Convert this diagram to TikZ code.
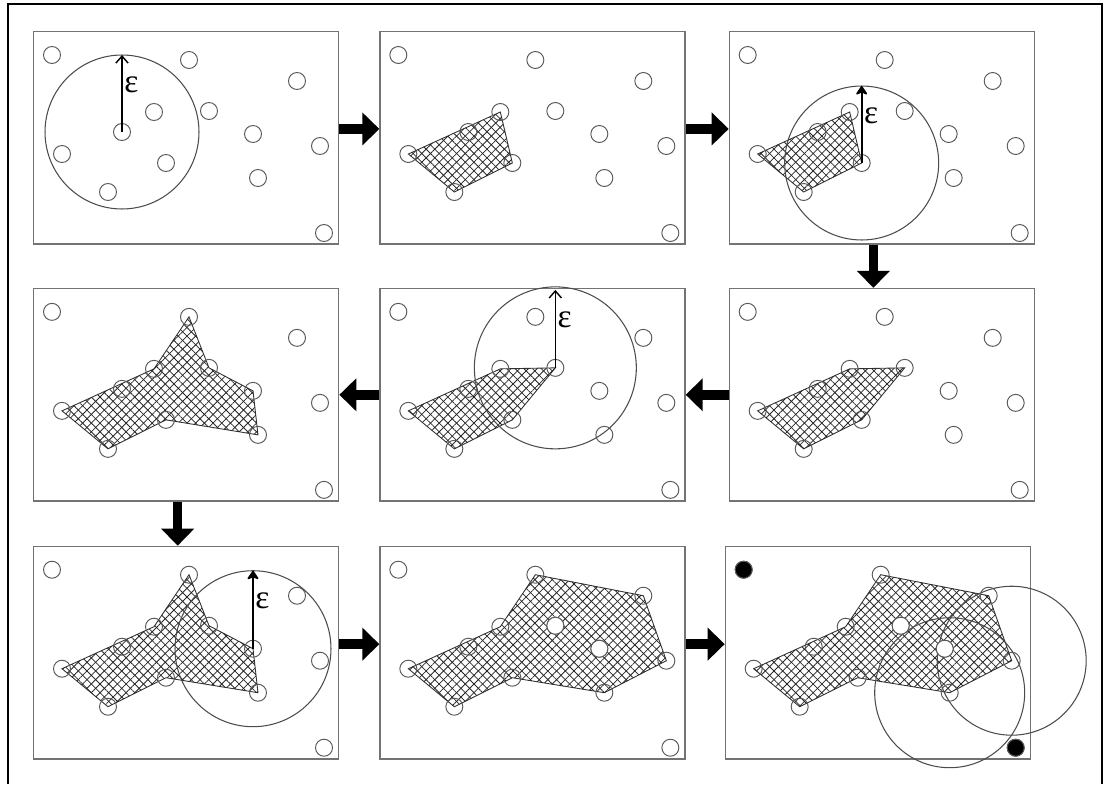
\documentclass[tikz,border=0pt]{standalone}
\usepackage{fontspec}
\newfontfamily\epsfont{Liberation Serif}
\usetikzlibrary{arrows.meta,positioning,patterns.meta}

% the same 13 data points are used in every step
\newcommand{\dotcoords}{%
  \foreach \n/\a/\b in {1/19/24,2/156/29,3/264/50,4/121/81,5/176/80,6/89/101,7/220/103,
                        8/287/115,9/29/123,10/133/132,11/75/161,12/225/147,13/291/202}
    \coordinate (q\n) at (\a,\b);}
\newcommand{\alldots}{\foreach \n in {1,...,13} \draw[dot] (q\n) circle[radius=0.17cm];}

\begin{document}
\begin{tikzpicture}[
    x=0.02cm,y=-0.02cm,
    panel/.style={rectangle,draw=black!55,line width=0.8pt,minimum width=6.1cm,minimum height=4.25cm,inner sep=0pt},
    dot/.style={draw=black!65,line width=0.55pt},
    reach/.style={draw=black!70,line width=0.6pt},
    hull/.style={draw=black!80,line width=0.5pt,
        postaction={pattern={Lines[angle=45,distance=3.5pt,line width=0.45pt]},pattern color=black!85},
        postaction={pattern={Lines[angle=-45,distance=3.5pt,line width=0.45pt]},pattern color=black!85}},
    rad/.style={-{Straight Barb[length=4pt,width=7pt]},line width=0.8pt},
    radbold/.style={-{Stealth[length=6pt,width=8pt,round]},line width=1.2pt},
    eps/.style={anchor=west,inner sep=0pt,font=\epsfont\fontsize{19}{19}\selectfont},
    flow/.style={line width=0.19cm,-{Triangle[length=0.34cm,width=0.64cm]}}
]
    \useasboundingbox (0,0) rectangle (1104,784);
    \draw[line width=1.2pt] (8,784) -- (8,4) -- (1102,4) -- (1102,784);

    % the nine steps
    \node[panel,anchor=north west] (s1) at (33,31) {};
    \node[panel,right=0.8cm of s1] (s2) {};
    \node[panel,right=0.86cm of s2] (s3) {};
    \node[panel,below=0.86cm of s3] (s6) {};
    \node[panel,left=0.86cm of s6] (s5) {};
    \node[panel,left=0.8cm of s5] (s4) {};
    \node[panel,below=0.88cm of s4] (s7) {};
    \node[panel,right=0.8cm of s7] (s8) {};
    \node[panel,right=0.78cm of s8] (s9) {};

    % step 1: first core point and its eps-neighbourhood
    \begin{scope}[shift={(s1.north west)}]
        \dotcoords
        \alldots
        \draw[reach] (q6) circle[radius=1.54cm];
        \draw[rad] (q6) -- ([yshift=1.54cm]q6) coordinate (e1);
        \node[eps] (l1) at ([shift={(2,30)}]e1) {ε};
    \end{scope}

    % step 2: first cluster
    \begin{scope}[shift={(s2.north west)}]
        \dotcoords
        \draw[hull] (q9) -- (q4) -- (q10) -- (q11) -- cycle;
        \alldots
    \end{scope}

    % step 3: expand from border point
    \begin{scope}[shift={(s3.north west)}]
        \dotcoords
        \draw[hull] (q9) -- (q4) -- (q10) -- (q11) -- cycle;
        \alldots
        \draw[reach] (q10) circle[radius=1.54cm];
        \draw[radbold] (q10) -- ([yshift=1.54cm]q10) coordinate (e3);
        \node[eps] (l3) at ([shift={(2,30)}]e3) {ε};
    \end{scope}

    % step 4 (right to left in row two)
    \begin{scope}[shift={(s6.north west)}]
        \dotcoords
        \draw[hull] (q9) -- (q4) -- (q5) -- (q10) -- (q11) -- cycle;
        \alldots
    \end{scope}

    \begin{scope}[shift={(s5.north west)}]
        \dotcoords
        \draw[hull] (q9) -- (q4) -- (q5) -- (q10) -- (q11) -- cycle;
        \alldots
        \draw[reach] (q5) circle[radius=1.62cm];
        \draw[rad] (q5) -- ([yshift=1.56cm]q5) coordinate (e5);
        \node[eps] (l5) at ([shift={(2,30)}]e5) {ε};
    \end{scope}

    \begin{scope}[shift={(s4.north west)}]
        \dotcoords
        \draw[hull] (q9) -- (q4) -- (q2) -- (q5) -- (q7) -- (q12) -- (q10) -- (q11) -- cycle;
        \alldots
    \end{scope}

    % row three
    \begin{scope}[shift={(s7.north west)}]
        \dotcoords
        \draw[hull] (q9) -- (q4) -- (q2) -- (q5) -- (q7) -- (q12) -- (q10) -- (q11) -- cycle;
        \alldots
        \draw[reach] (q7) circle[radius=1.56cm];
        \draw[radbold] (q7) -- ([yshift=1.56cm]q7) coordinate (e7);
        \node[eps] (l7) at ([shift={(2,30)}]e7) {ε};
    \end{scope}

    \begin{scope}[shift={(s8.north west)}]
        \dotcoords
        \draw[hull] (q9) -- (q4) -- (q2) -- (q3) -- (q8) -- (q12) -- (q10) -- (q11) -- cycle;
        \alldots
        \draw[dot,fill=white] (q5) circle[radius=0.17cm] (q7) circle[radius=0.17cm];
    \end{scope}

    % final cluster, noise in black
    \begin{scope}[shift={(s9.north west)}]
        \dotcoords
        \draw[hull] (q9) -- (q4) -- (q2) -- (q3) -- (q8) -- (q12) -- (q10) -- (q11) -- cycle;
        \draw[reach] (q8) circle[radius=1.49cm];
        \draw[reach] (q12) circle[radius=1.5cm];
        \alldots
        \draw[dot,fill=white] (q5) circle[radius=0.17cm] (q7) circle[radius=0.17cm];
        \draw[dot,fill=black] (q1) circle[radius=0.17cm] (q13) circle[radius=0.17cm];
    \end{scope}

    % step arrows
    \draw[flow] ([yshift=0.18cm]s1.east) -- ([yshift=0.18cm]s2.west);
    \draw[flow] ([yshift=0.18cm]s2.east) -- ([yshift=0.18cm]s3.west);
    \draw[flow] ([xshift=-0.17cm]s3.south) -- ([xshift=-0.17cm]s6.north);
    \draw[flow] (s6.west) -- (s5.east);
    \draw[flow] (s5.west) -- (s4.east);
    \draw[flow] ([xshift=-0.17cm]s4.south) -- ([xshift=-0.17cm]s7.north);
    \draw[flow] ([yshift=0.17cm]s7.east) -- ([yshift=0.17cm]s8.west);
    \draw[flow] ([yshift=0.17cm]s8.east) -- ([yshift=0.17cm]s9.west);
\end{tikzpicture}
\end{document}
